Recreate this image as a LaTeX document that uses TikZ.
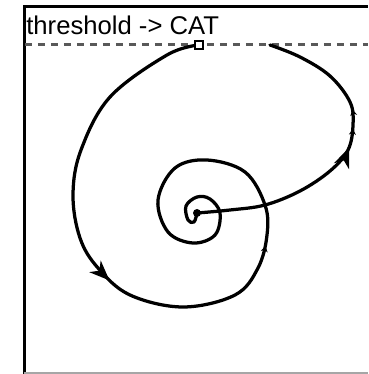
\documentclass[tikz,border=0pt]{standalone}
\usepackage{fontspec}
\setmainfont{Liberation Sans}
\usetikzlibrary{arrows.meta,decorations.markings}
\tikzset{
  frame/.style={line width=0.06cm},
  thline/.style={draw=black!65, line width=0.06cm, dash pattern=on 0.15cm off 0.11cm},
  traj/.style={line width=0.065cm, line cap=round, line join=round},
  marker/.style={draw, fill=white, line width=0.04cm, minimum size=0.15cm, inner sep=0pt},
  bigtip/.tip={Stealth[length=0.4cm,width=0.32cm,inset=0.12cm]},
  smalltip/.tip={Stealth[length=0.12cm,width=0.14cm]}
}

\begin{document}
\begin{tikzpicture}[x=0.02cm,y=-0.02cm]
  \useasboundingbox (0,0) rectangle (368,374);
  % frame
  \draw[frame] (24,374) -- (24,6.5) -- (368,6.5);
  \draw[black!35, line width=0.03cm] (24,372.8) -- (368,372.8);
  \node[anchor=base west, inner sep=0pt, font=\fontsize{14.6}{17}\selectfont] (title) at (26,35) {threshold -> CAT};
  % threshold line
  \coordinate (left) at (25,45);
  \coordinate (right) at (368,45);
  \draw[thline] (left) -- (right);
  \coordinate (start) at (199,45);
  \coordinate (ctr) at (197,213);
  \coordinate (hit) at (270,45);
  % inward spiral
  \draw[traj, postaction={decorate}, decoration={markings,
      mark=at position 0.35 with {\arrow{bigtip}},
      mark=at position 0.57 with {\arrow{smalltip}}}]
    plot[smooth, tension=0.6] coordinates {(start) (167,55) (110,97) (81,150) (73,195)
      (80,238) (98,268) (130,295) (183,307) (235,295) (258,268) (267,235) (265,205)
      (245,172) (207,160) (175,168) (158,200) (168,232) (193,243) (215,235) (220,213)
      (210,199) (197,197) (186,206) (188,220) (194,222) (ctr)};
  % outward path
  \draw[traj, postaction={decorate}, decoration={markings,
      mark=at position 0.54 with {\arrow{bigtip}},
      mark=at position 0.6 with {\arrow{smalltip}},
      mark=at position 0.66 with {\arrow{smalltip}}}]
    plot[smooth, tension=0.6] coordinates {(ctr) (230,210) (265,205) (300,191)
      (330,171) (348,150) (353,125) (350,102) (330,76) (300,57) (hit)};
  \fill (ctr) circle (4);
  \node[marker] (thr) at (start) {};
\end{tikzpicture}
\end{document}
